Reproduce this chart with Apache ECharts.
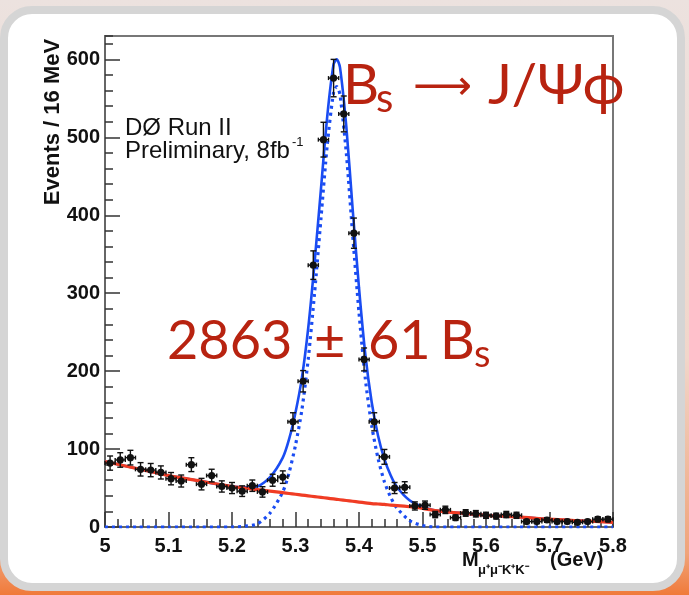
<!DOCTYPE html>
<html>
<head>
<meta charset="utf-8">
<script src="https://cdn.jsdelivr.net/npm/echarts@6/dist/echarts.min.js"></script>
<style>
html, body { margin: 0; padding: 0; }
#app { width: 689px; height: 595px; }
</style>
</head>
<body>
<div id="app"></div>
<script>
// bins of 16 MeV
var binCenters = [5.008, 5.024, 5.040, 5.056, 5.072, 5.088, 5.104, 5.120, 5.136, 5.152,
    5.168, 5.184, 5.200, 5.216, 5.232, 5.248, 5.264, 5.280, 5.296, 5.312,
    5.328, 5.344, 5.360, 5.376, 5.392, 5.408, 5.424, 5.440, 5.456, 5.472,
    5.488, 5.504, 5.520, 5.536, 5.552, 5.568, 5.584, 5.600, 5.616, 5.632,
    5.648, 5.664, 5.680, 5.696, 5.712, 5.728, 5.744, 5.760, 5.776, 5.792];
var counts = [82, 86, 89, 74, 73, 70, 62, 59, 80, 55,
    66, 52, 50, 46, 53, 45, 60, 64, 135, 187,
    336, 497, 576, 530, 377, 215, 135, 90, 50, 51,
    27, 28, 16, 22, 12, 18, 17, 15, 14, 16,
    15, 7, 7, 9, 7, 7, 6, 7, 10, 10];
var errors = [9.1, 9.3, 9.4, 8.6, 8.5, 8.4, 7.9, 7.7, 8.9, 7.4,
    8.1, 7.2, 7.1, 6.8, 7.3, 6.7, 7.7, 8.0, 11.6, 13.7,
    18.3, 22.3, 24.0, 23.0, 19.4, 14.7, 11.6, 9.5, 7.1, 7.1,
    5.2, 5.3, 4.0, 4.7, 3.5, 4.2, 4.1, 3.9, 3.7, 4.0,
    3.9, 2.6, 2.6, 3.0, 2.6, 2.6, 2.4, 2.6, 3.2, 3.2];
var binHalfWidth = 0.008;

// fit curves
var curveX = [5.00, 5.05, 5.10, 5.15, 5.20, 5.22, 5.24, 5.26, 5.28, 5.29,
    5.30, 5.31, 5.32, 5.33, 5.34, 5.35, 5.36, 5.365, 5.37, 5.38,
    5.39, 5.40, 5.41, 5.42, 5.43, 5.44, 5.45, 5.46, 5.48, 5.50,
    5.52, 5.55, 5.60, 5.65, 5.70, 5.75, 5.80];
var bkgFit = [84, 75, 66, 59, 52, 50, 48, 46, 44, 43,
    42, 41, 40, 39, 38, 37, 36, 35.5, 35, 34,
    33, 32, 31, 30, 29.5, 29, 28, 27.5, 26, 24,
    21, 18.5, 15, 13, 10, 8, 6];
var sigFit = [0, 0, 0, 0, 0, 1, 4, 18, 45, 70,
    105, 150, 215, 300, 395, 490, 558, 565, 555, 480,
    375, 275, 190, 130, 88, 58, 38, 24, 8, 2,
    0, 0, 0, 0, 0, 0, 0];
var totalFit = [84, 75, 66, 59, 52, 51, 52, 64, 89, 113,
    147, 191, 255, 339, 433, 527, 594, 600, 590, 514,
    408, 307, 221, 160, 117, 87, 66, 51, 34, 26,
    21, 18.5, 15, 13, 10, 8, 6];

var xTicks = { min: 5, max: 5.8, interval: 0.1 };
var yTicks = { min: 0, max: 630, interval: 100, minor: 20 };

var red = '#b82310';
var axisFont = '"Liberation Sans", Arial, sans-serif';
var bigFont = 'Lato, "Open Sans", "DejaVu Sans", sans-serif';

function pairs(xs, ys) {
    return xs.map(function (x, i) { return [x, ys[i]]; });
}

var pointData = binCenters.map(function (x, i) {
    return [x, counts[i], errors[i]];
});

function renderPoint(params, api) {
    var x = api.value(0);
    var y = api.value(1);
    var e = api.value(2);
    var c = api.coord([x, y]);
    var top = api.coord([x, y + e]);
    var bot = api.coord([x, y - e]);
    var l = api.coord([x - binHalfWidth, y]);
    var r = api.coord([x + binHalfWidth, y]);
    var st = { stroke: '#111', lineWidth: 1.4 };
    return {
        type: 'group',
        children: [
            { type: 'line', shape: { x1: c[0], y1: top[1], x2: c[0], y2: bot[1] }, style: st },
            { type: 'line', shape: { x1: c[0] - 3, y1: top[1], x2: c[0] + 3, y2: top[1] }, style: st },
            { type: 'line', shape: { x1: c[0] - 3, y1: bot[1], x2: c[0] + 3, y2: bot[1] }, style: st },
            { type: 'line', shape: { x1: l[0], y1: c[1], x2: r[0], y2: c[1] }, style: st },
            { type: 'line', shape: { x1: l[0], y1: c[1] - 2, x2: l[0], y2: c[1] + 2 }, style: st },
            { type: 'line', shape: { x1: r[0], y1: c[1] - 2, x2: r[0], y2: c[1] + 2 }, style: st },
            { type: 'circle', shape: { cx: c[0], cy: c[1], r: 3.6 }, style: { fill: '#111' } }
        ]
    };
}

function label(x, y, text, size, extra) {
    var style = {
        text: text, fill: '#111', fontSize: size, fontFamily: axisFont,
        align: 'left', verticalAlign: 'middle'
    };
    for (var k in extra) style[k] = extra[k];
    return { type: 'text', x: x, y: y, style: style };
}

var tickStyle = { color: '#333', width: 1.5 };

var option = {
    backgroundColor: {
        type: 'linear', x: 0, y: 0, x2: 0, y2: 1,
        colorStops: [
            { offset: 0, color: '#ece2df' },
            { offset: 0.6, color: '#f1d6ca' },
            { offset: 0.93, color: '#f0a47a' },
            { offset: 1, color: '#f07a3a' }
        ]
    },
    animation: false,
    grid: {
        left: 105, right: 76, top: 36, bottom: 68,
        show: true, borderColor: '#777', borderWidth: 2
    },
    xAxis: {
        type: 'value',
        min: xTicks.min, max: xTicks.max, interval: xTicks.interval,
        axisLine: { lineStyle: { color: '#666', width: 2 } },
        axisTick: { inside: true, length: 15, lineStyle: tickStyle },
        minorTick: { show: true, splitNumber: 5, length: 8, lineStyle: tickStyle },
        splitLine: { show: false },
        axisLabel: {
            color: '#111', fontSize: 20, fontWeight: 'bold', fontFamily: axisFont, margin: 9,
            formatter: function (v) { return String(+v.toFixed(1)); }
        }
    },
    yAxis: [{
        type: 'value',
        min: yTicks.min, max: yTicks.max, interval: yTicks.interval,
        axisLine: { show: true, lineStyle: { color: '#666', width: 2 } },
        axisTick: { inside: true, length: 15, lineStyle: tickStyle },
        splitLine: { show: false },
        axisLabel: {
            color: '#111', fontSize: 20, fontWeight: 'bold', fontFamily: axisFont, margin: 5,
            showMaxLabel: false
        }
    }, {
        type: 'value',
        position: 'left',
        min: yTicks.min, max: yTicks.max, interval: yTicks.minor,
        axisLine: { show: false },
        axisTick: { inside: true, length: 8, lineStyle: tickStyle },
        axisLabel: { show: false },
        splitLine: { show: false }
    }],
    graphic: [
        {
            type: 'rect', z: -10,
            shape: { x: 4, y: 10, width: 677, height: 577, r: 28 },
            style: { fill: '#fff', stroke: '#d5d5d5', lineWidth: 8 }
        },
        {
            type: 'text', x: 53, y: 122, rotation: Math.PI / 2,
            style: {
                text: 'Events / 16 MeV', fill: '#111', fontSize: 22, fontWeight: 'bold',
                fontFamily: axisFont, align: 'center', verticalAlign: 'middle'
            }
        },
        label(462, 560, 'M', 20, { fontWeight: 'bold' }),
        label(478, 570, 'μ⁺μ⁻K⁺K⁻', 13, { fontWeight: 'bold' }),
        label(550, 560, '(GeV)', 20, { fontWeight: 'bold' }),
        label(125, 128, 'DØ Run II', 24),
        label(125, 151, 'Preliminary, 8fb', 24),
        label(292, 142, '-1', 13),
        // B_s -> J/psi phi
        label(343, 86, 'B', 56, { fill: red, fontFamily: bigFont }),
        label(376, 99, 's', 40, { fill: red, fontFamily: bigFont }),
        label(413, 86, '⟶', 41, { fill: red, fontFamily: bigFont }),
        label(488, 86, 'J/Ψϕ', 57, { fill: red, fontFamily: bigFont }),
        // yield
        label(167, 342, '2863', 54, { fill: red, fontFamily: bigFont }),
        label(314, 342, '±', 54, { fill: red, fontFamily: bigFont }),
        label(368, 342, '61', 54, { fill: red, fontFamily: bigFont }),
        label(440, 342, 'B', 54, { fill: red, fontFamily: bigFont }),
        label(474, 355, 's', 38, { fill: red, fontFamily: bigFont })
    ],
    series: [{
        name: 'signal',
        type: 'line',
        data: pairs(curveX, sigFit),
        smooth: 0.25,
        showSymbol: false,
        z: 2,
        lineStyle: { color: '#1a4cf2', width: 3.2, type: [3, 4] }
    }, {
        name: 'total fit',
        type: 'line',
        data: pairs(curveX, totalFit),
        smooth: 0.25,
        showSymbol: false,
        z: 3,
        lineStyle: { color: '#1a4cf2', width: 2.6 }
    }, {
        name: 'background',
        type: 'line',
        data: pairs(curveX, bkgFit),
        smooth: 0.3,
        showSymbol: false,
        z: 4,
        lineStyle: { color: '#f03c24', width: 3.2 }
    }, {
        name: 'data',
        type: 'custom',
        renderItem: renderPoint,
        encode: { x: 0, y: 1 },
        data: pointData,
        z: 5
    }]
};

var myChart = echarts.init(document.getElementById('app'));
myChart.setOption(option);
</script>
</body>
</html>
